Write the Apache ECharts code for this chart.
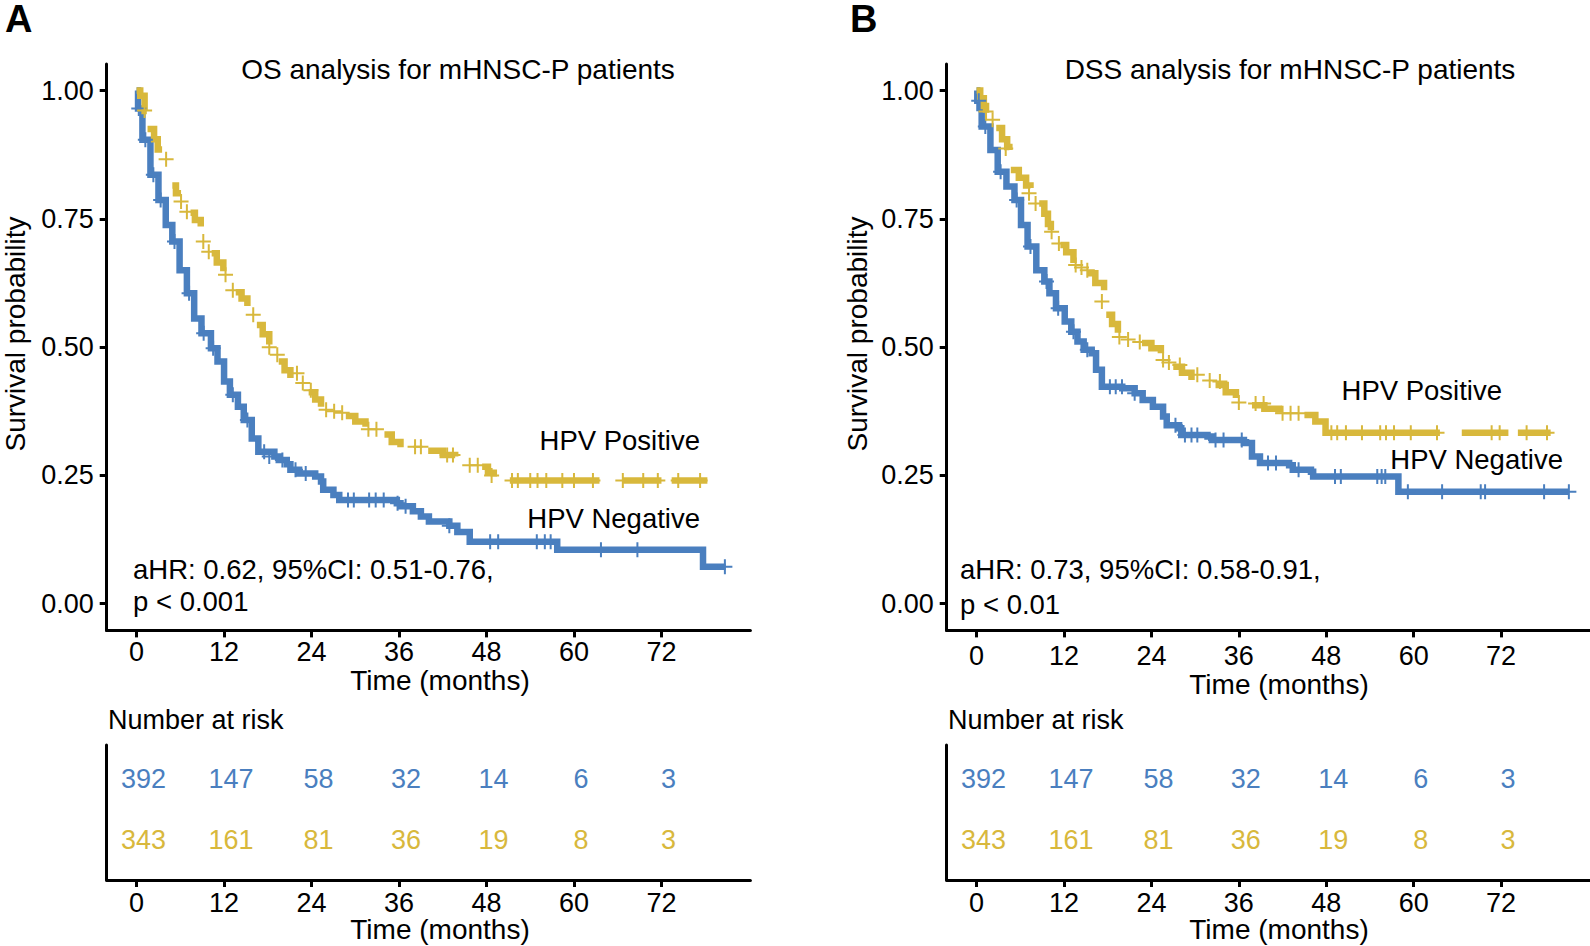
<!DOCTYPE html>
<html>
<head>
<meta charset="utf-8">
<title>mHNSC-P survival</title>
<script src="https://cdn.jsdelivr.net/npm/echarts@6/dist/echarts.min.js"></script>
<style>
  html, body { margin: 0; padding: 0; background: #fff; }
  #main { width: 1590px; height: 946px; }
</style>
</head>
<body>
<div id="main"></div>
<script>
// tick labels
const timeTicks = [0, 12, 24, 36, 48, 60, 72]
const probTicks = [0, 0.25, 0.5, 0.75, 1]

// number at risk
const riskNeg = [392, 147, 58, 32, 14, 6, 3]
const riskPos = [343, 161, 81, 36, 19, 8, 3]

// A: OS, HPV negative  [months, survival]
const negA = [[0, 1], [0.2, 0.965], [0.8, 0.904], [1.9, 0.836], [3.0, 0.787], [4.0, 0.738], [4.9, 0.706],
  [5.9, 0.65], [6.9, 0.605], [7.9, 0.556], [8.9, 0.527], [10.2, 0.498], [11.1, 0.472], [12.0, 0.433],
  [12.8, 0.407], [13.9, 0.384], [14.7, 0.358], [15.8, 0.322], [16.7, 0.296], [18.9, 0.287], [19.5, 0.28],
  [20.6, 0.272], [21.1, 0.261], [22.3, 0.254], [24.5, 0.248], [25.3, 0.238], [25.6, 0.222], [27.0, 0.212],
  [27.8, 0.202], [35.7, 0.196], [36.2, 0.19], [37.9, 0.18], [39.0, 0.17], [40.1, 0.16], [42.9, 0.152],
  [44.0, 0.14], [45.7, 0.121], [57.7, 0.105], [77.7, 0.072], [80.8, 0.072]]
const negCensA = [[0.3, 0.965], [1.2, 0.904], [2.3, 0.836], [3.3, 0.787], [5.2, 0.706], [7.2, 0.605],
  [9.2, 0.527], [10.5, 0.498], [13.2, 0.407], [15.2, 0.358], [17.5, 0.296], [18.2, 0.287], [20.0, 0.28],
  [21.8, 0.261], [23.2, 0.254], [29.0, 0.202], [29.8, 0.202], [31.9, 0.202], [32.8, 0.202], [33.9, 0.202],
  [35.8, 0.196], [36.9, 0.19], [42.9, 0.152], [48.5, 0.121], [49.6, 0.121], [54.9, 0.121], [56.0, 0.121],
  [56.8, 0.121], [63.7, 0.105], [68.7, 0.105], [80.7, 0.072]]

// A: OS, HPV positive (the curve is drawn in pieces, as in the figure)
const posSegA = [
  [[0, 1], [0.5, 0.99], [1.1, 0.96], [1.4, 0.96]],
  [[1.5, 0.925], [2.4, 0.905], [2.9, 0.885], [3.5, 0.885]],
  [[4.9, 0.815], [5.4, 0.8], [6.1, 0.8]],
  [[7.4, 0.762], [8.0, 0.748], [8.8, 0.735]],
  [[10.3, 0.683], [11.0, 0.665], [11.9, 0.648]],
  [[13.6, 0.607], [14.4, 0.595], [15.2, 0.58]],
  [[16.5, 0.543], [17.3, 0.525], [18.2, 0.505]],
  [[19.5, 0.472], [20.3, 0.455], [21.1, 0.44]],
  [[23.6, 0.412], [24.5, 0.398], [25.3, 0.384]],
  [[28.7, 0.366], [30.0, 0.355], [31.4, 0.345]],
  [[34.0, 0.33], [35.0, 0.315], [36.2, 0.305]],
  [[40.0, 0.298], [42.0, 0.29], [43.7, 0.287]],
  [[47.4, 0.267], [48.2, 0.255], [49.0, 0.248]],
  [[51.2, 0.24], [63.5, 0.24]],
  [[66.7, 0.24], [72.0, 0.24]],
  [[73.4, 0.24], [78.3, 0.24]]
]
const posCensA = [[1.1, 0.961], [4.05, 0.866], [6.1, 0.784], [6.9, 0.764], [9.15, 0.706], [9.9, 0.686],
  [12.2, 0.641], [13.2, 0.611], [16.0, 0.563], [18.2, 0.5], [19.3, 0.485], [22.0, 0.449], [22.8, 0.43],
  [23.9, 0.416], [26.0, 0.378], [27.1, 0.375], [28.2, 0.372], [31.8, 0.34], [32.9, 0.34], [38.2, 0.306],
  [39.0, 0.306], [42.6, 0.29], [43.4, 0.29], [45.7, 0.27], [46.8, 0.27], [48.7, 0.25], [51.5, 0.24],
  [52.3, 0.24], [54.0, 0.24], [55.0, 0.24], [56.2, 0.24], [58.4, 0.24], [60.0, 0.24], [62.6, 0.24],
  [66.7, 0.24], [69.5, 0.24], [71.5, 0.24], [74.3, 0.24], [77.3, 0.24]]

// B: DSS, HPV negative
const negB = [[0, 1], [0.1, 0.98], [0.4, 0.966], [0.7, 0.93], [1.9, 0.884], [2.9, 0.842], [4.1, 0.813],
  [5.2, 0.787], [6.1, 0.738], [7.0, 0.696], [8.2, 0.65], [9.3, 0.628], [10.0, 0.605], [10.9, 0.576],
  [12.1, 0.55], [13.0, 0.53], [13.85, 0.511], [14.7, 0.495], [15.8, 0.488], [16.4, 0.456], [17.2, 0.423],
  [20.0, 0.42], [21.7, 0.41], [22.8, 0.397], [24.2, 0.384], [25.6, 0.365], [26.1, 0.348], [27.8, 0.342],
  [28.1, 0.329], [31.7, 0.326], [32.3, 0.319], [36.7, 0.313], [37.8, 0.287], [38.9, 0.274], [42.9, 0.27],
  [43.4, 0.261], [45.9, 0.257], [46.2, 0.248], [57.9, 0.218], [81.3, 0.218]]
const negCensB = [[0.3, 0.98], [1.2, 0.93], [3.3, 0.842], [5.5, 0.787], [7.4, 0.696], [9.6, 0.628],
  [11.2, 0.576], [13.3, 0.53], [15.2, 0.495], [18.3, 0.423], [19.1, 0.423], [19.96, 0.423], [21.7, 0.41],
  [27.3, 0.348], [28.6, 0.329], [29.5, 0.329], [30.3, 0.329], [32.8, 0.319], [33.9, 0.319], [36.4, 0.319],
  [40.0, 0.274], [41.1, 0.274], [44.2, 0.261], [49.2, 0.248], [50.0, 0.248], [55.0, 0.248], [55.6, 0.248],
  [56.1, 0.248], [59.2, 0.218], [63.9, 0.218], [69.2, 0.218], [69.8, 0.218], [77.9, 0.218], [81.3, 0.218]]

// B: DSS, HPV positive
const posSegB = [
  [[0, 1], [0.5, 0.985], [1.0, 0.97], [1.3, 0.957]],
  [[2.7, 0.927], [3.5, 0.905], [4.2, 0.89], [4.5, 0.884]],
  [[4.7, 0.845], [5.8, 0.83], [6.8, 0.815], [7.4, 0.81]],
  [[8.6, 0.78], [9.3, 0.76], [9.8, 0.74], [10.2, 0.728]],
  [[11.5, 0.699], [12.3, 0.685], [13.3, 0.664]],
  [[15.2, 0.644], [16.3, 0.625], [17.5, 0.611]],
  [[17.8, 0.563], [18.6, 0.545], [19.4, 0.528]],
  [[22.7, 0.508], [24.0, 0.498], [25.3, 0.488]],
  [[27.0, 0.462], [28.2, 0.45], [29.5, 0.436]],
  [[32.8, 0.426], [34.2, 0.412], [35.6, 0.401]],
  [[37.8, 0.387], [39.5, 0.38], [41.5, 0.372]],
  [[45.0, 0.368], [46.5, 0.355], [47.9, 0.333], [63.6, 0.333]],
  [[66.6, 0.333], [73.0, 0.333]],
  [[74.3, 0.333], [78.8, 0.333]]
]
const posCensB = [[1.3, 0.959], [2.2, 0.943], [4.0, 0.887], [7.2, 0.8], [8.1, 0.78], [10.3, 0.725],
  [11.3, 0.702], [13.6, 0.66], [14.4, 0.655], [15.2, 0.65], [17.2, 0.589], [19.6, 0.52], [20.8, 0.515],
  [22.4, 0.51], [25.6, 0.475], [26.4, 0.47], [27.9, 0.465], [30.3, 0.446], [32.0, 0.435], [33.4, 0.433],
  [36.0, 0.392], [38.3, 0.39], [39.4, 0.39], [42.0, 0.371], [43.1, 0.371], [44.2, 0.371], [48.7, 0.333],
  [49.5, 0.333], [50.7, 0.333], [52.9, 0.333], [55.4, 0.333], [56.2, 0.333], [57.3, 0.333], [59.6, 0.333],
  [63.2, 0.333], [70.7, 0.333], [71.8, 0.333], [75.5, 0.333], [78.3, 0.333]]

const BLUE = '#4a7fbf'
const GOLD = '#d8b83c'
const FONT = '"Liberation Sans", Arial, Helvetica, sans-serif'
const plus = 'path://M6.5,0H8.5V15H6.5ZM0,6.5H15V8.5H0Z'

const chart = echarts.init(document.getElementById('main'), null, { renderer: 'svg' })

const axisLine = { show: true, onZero: false, lineStyle: { color: '#000', width: 3 } }

function timeAxis(grid, margin) {
  return {
    type: 'value', gridIndex: grid, min: -4.1, max: 84.2,
    axisLine: axisLine,
    axisTick: { show: true, customValues: timeTicks, length: 7, lineStyle: { color: '#000', width: 3 } },
    axisLabel: { customValues: timeTicks, margin: margin, fontSize: 27, color: '#000', fontFamily: FONT },
    splitLine: { show: false }
  }
}

function probAxis(grid) {
  return {
    type: 'value', gridIndex: grid, min: -0.052, max: 1.052,
    axisLine: axisLine,
    axisTick: { show: true, customValues: probTicks, length: 7, lineStyle: { color: '#000', width: 3 } },
    axisLabel: {
      customValues: probTicks, margin: 13, fontSize: 27, color: '#000', fontFamily: FONT,
      formatter: v => v.toFixed(2)
    },
    splitLine: { show: false }
  }
}

function tableAxis(grid) {
  return {
    type: 'value', gridIndex: grid, min: 0, max: 4,
    axisLine: axisLine, axisTick: { show: false }, axisLabel: { show: false }, splitLine: { show: false }
  }
}

function stepLine(idx, data, color) {
  return {
    type: 'line', xAxisIndex: idx, yAxisIndex: idx, data: data, step: 'end',
    symbol: 'none', lineStyle: { color: color, width: 6.5, join: 'miter' }, z: 2, silent: true
  }
}

function censor(idx, data, color) {
  return {
    type: 'scatter', xAxisIndex: idx, yAxisIndex: idx, data: data, symbol: plus, symbolSize: 15,
    itemStyle: { color: color, opacity: 1 }, z: 3, silent: true
  }
}

// risk table rows: blue on top, gold below
function riskRow(idx, counts, row, color) {
  return {
    type: 'scatter', xAxisIndex: idx, yAxisIndex: idx, symbolSize: 2,
    itemStyle: { color: 'rgba(255,255,255,0)', opacity: 1 },
    data: counts.map((n, i) => [timeTicks[i], row, n]),
    label: {
      show: true, position: 'right', distance: -1, formatter: p => String(p.value[2]),
      align: 'center', fontSize: 27, color: color, fontFamily: FONT, opacity: 1,
      textBorderWidth: 0, textShadowBlur: 0, padding: [0, 0, 0, 14]
    },
    silent: true
  }
}

var series = []
series.push(stepLine(0, negA, BLUE))
posSegA.forEach(s => series.push(stepLine(0, s, GOLD)))
series.push(censor(0, negCensA, BLUE))
series.push(censor(0, posCensA, GOLD))
series.push(stepLine(2, negB, BLUE))
posSegB.forEach(s => series.push(stepLine(2, s, GOLD)))
series.push(censor(2, negCensB, BLUE))
series.push(censor(2, posCensB, GOLD))
series.push(riskRow(1, riskNeg, 3, BLUE))
series.push(riskRow(1, riskPos, 1.2, GOLD))
series.push(riskRow(3, riskNeg, 3, BLUE))
series.push(riskRow(3, riskPos, 1.2, GOLD))

function txt(s, x, y, opt) {
  opt = opt || {}
  return {
    type: 'text', x: x, y: y, rotation: opt.rot || 0, silent: true,
    style: {
      text: s, fill: opt.color || '#000', fontSize: opt.size || 27, fontFamily: FONT,
      fontWeight: opt.bold ? 'bold' : 'normal',
      align: opt.align || 'left', verticalAlign: 'middle'
    }
  }
}

const texts = [
  txt('A', 5, 19, { size: 38, bold: true }),
  txt('B', 850, 19, { size: 38, bold: true }),
  txt('OS analysis for mHNSC-P patients', 458, 69, { size: 28, align: 'center' }),
  txt('DSS analysis for mHNSC-P patients', 1290, 69, { size: 28, align: 'center' }),
  txt('Survival probability', 15, 334, { size: 28, align: 'center', rot: Math.PI / 2 }),
  txt('Survival probability', 857, 334, { size: 28, align: 'center', rot: Math.PI / 2 }),
  txt('Time (months)', 440, 680, { size: 28, align: 'center' }),
  txt('Time (months)', 1279, 684, { size: 28, align: 'center' }),
  txt('Time (months)', 440, 929, { size: 28, align: 'center' }),
  txt('Time (months)', 1279, 929, { size: 28, align: 'center' }),
  txt('Number at risk', 108, 720),
  txt('Number at risk', 948, 720),
  txt('HPV Positive', 700, 440, { align: 'right', size: 27.5 }),
  txt('HPV Negative', 700, 518, { align: 'right', size: 27.5 }),
  txt('HPV Positive', 1502, 390, { align: 'right', size: 27.5 }),
  txt('HPV Negative', 1563, 459, { align: 'right', size: 27.5 }),
  txt('aHR: 0.62, 95%CI: 0.51-0.76,', 133, 569, { size: 27.5 }),
  txt('p < 0.001', 133, 601, { size: 27.5 }),
  txt('aHR: 0.73, 95%CI: 0.58-0.91,', 960, 569, { size: 27.5 }),
  txt('p < 0.01', 960, 604, { size: 27.5 })
]

var option = {
  backgroundColor: '#fff',
  animation: false,
  grid: [
    { left: 106.7, top: 63.9, width: 643.7, height: 566.5, containLabel: false, outerBoundsMode: 'none' },
    { left: 106.7, top: 745, width: 643.7, height: 135, containLabel: false, outerBoundsMode: 'none' },
    { left: 946.7, top: 63.9, width: 643.3, height: 566.5, containLabel: false, outerBoundsMode: 'none' },
    { left: 946.7, top: 745, width: 643.3, height: 135, containLabel: false, outerBoundsMode: 'none' }
  ],
  xAxis: [timeAxis(0, 8), timeAxis(1, 9), timeAxis(2, 12), timeAxis(3, 9)],
  yAxis: [probAxis(0), tableAxis(1), probAxis(2), tableAxis(3)],
  series: series,
  graphic: texts
}

chart.setOption(option)
</script>
</body>
</html>
